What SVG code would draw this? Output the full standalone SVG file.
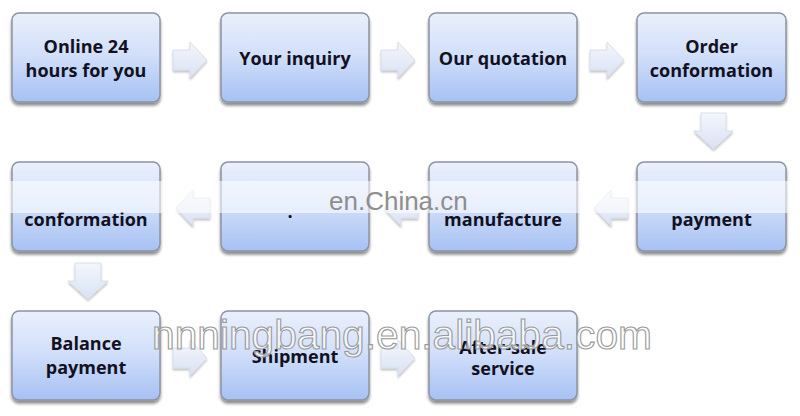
<svg xmlns="http://www.w3.org/2000/svg" width="800" height="416" viewBox="0 0 800 416">
  <defs>
    <linearGradient id="boxGrad" x1="0" y1="0" x2="0" y2="1">
      <stop offset="0" stop-color="#eaf0fc"/>
      <stop offset="0.45" stop-color="#d3e0fa"/>
      <stop offset="1" stop-color="#a6c1f3"/>
    </linearGradient>
    <linearGradient id="arrGrad" x1="0" y1="0" x2="0" y2="1">
      <stop offset="0" stop-color="#f3f6fc"/>
      <stop offset="1" stop-color="#d9e2f4"/>
    </linearGradient>
    <filter id="shadow" x="-10%" y="-10%" width="120%" height="130%">
      <feGaussianBlur in="SourceAlpha" stdDeviation="1.6"/>
      <feOffset dx="0" dy="2.5" result="b"/>
      <feComponentTransfer><feFuncA type="linear" slope="0.45"/></feComponentTransfer>
      <feMerge><feMergeNode/><feMergeNode in="SourceGraphic"/></feMerge>
    </filter>
    <filter id="ashadow" x="-20%" y="-20%" width="140%" height="150%">
      <feGaussianBlur in="SourceAlpha" stdDeviation="1.2"/>
      <feOffset dx="0" dy="1.5"/>
      <feComponentTransfer><feFuncA type="linear" slope="0.25"/></feComponentTransfer>
      <feMerge><feMergeNode/><feMergeNode in="SourceGraphic"/></feMerge>
    </filter>
  </defs>
  <style>
    .box { fill: url(#boxGrad); stroke: #8c93a3; stroke-width: 1.5; filter: url(#shadow); }
    .lbl { font-family: "Open Sans", "Liberation Sans", sans-serif; font-weight: 700; font-size: 18px; fill: #111122; text-anchor: middle; }
    .arr { fill: url(#arrGrad); stroke: #d2d9e6; stroke-width: 0.8; filter: url(#ashadow); }
    .wm1 { font-family: "Liberation Sans", Arial, sans-serif; font-size: 26px; fill: #8e8e8e; }
    .wm2 { font-family: "Liberation Sans", Arial, sans-serif; font-size: 40px; fill: #ffffff; fill-opacity: 0.7; stroke: #9a9a9a; stroke-width: 1.1; }
  </style>
  <rect width="800" height="416" fill="#ffffff"/>

  <g id="connectors">
    <!-- row 1, pointing right -->
    <path class="arr" d="M173,50 H190 V42 L207,60 L190,78 V70 H173 Z"/>
    <path class="arr" d="M381,50 H398 V42 L415,60 L398,78 V70 H381 Z"/>
    <path class="arr" d="M590,50 H607 V42 L624,60 L607,78 V70 H590 Z"/>
    <!-- down from Order conformation -->
    <path class="arr" d="M701,113 H726 V131 H733 L713.5,149 L694,131 H701 Z"/>
    <!-- row 2, pointing left -->
    <path class="arr" d="M628,198 H611 V190 L594,208 L611,226 V218 H628 Z"/>
    <path class="arr" d="M418,198 H401 V190 L384,208 L401,226 V218 H418 Z"/>
    <path class="arr" d="M210,198 H193 V190 L176,208 L193,226 V218 H210 Z"/>
    <!-- down from conformation -->
    <path class="arr" d="M75,263 H101 V281 H108 L88,299 L68,281 H75 Z"/>
    <!-- row 3, pointing right -->
    <path class="arr" d="M173,348 H190 V340 L207,358 L190,376 V368 H173 Z"/>
    <path class="arr" d="M381,348 H398 V340 L415,358 L398,376 V368 H381 Z"/>
  </g>

  <g id="n1"><rect class="box" x="12" y="13" width="148" height="89" rx="7"/>
    <text class="lbl" x="86" y="53">Online 24</text><text class="lbl" x="86" y="77">hours for you</text></g>
  <g id="n2"><rect class="box" x="221" y="13" width="148" height="89" rx="7"/>
    <text class="lbl" x="295" y="65">Your inquiry</text></g>
  <g id="n3"><rect class="box" x="429" y="13" width="148" height="89" rx="7"/>
    <text class="lbl" x="503" y="65">Our quotation</text></g>
  <g id="n4"><rect class="box" x="637" y="13" width="149" height="89" rx="7"/>
    <text class="lbl" x="711.5" y="53">Order</text><text class="lbl" x="711.5" y="77">conformation</text></g>

  <g id="n5"><rect class="box" x="637" y="162" width="149" height="89" rx="7"/>
    <text class="lbl" x="711.5" y="226">payment</text></g>
  <g id="n6"><rect class="box" x="429" y="162" width="148" height="89" rx="7"/>
    <text class="lbl" x="503" y="226">manufacture</text></g>
  <g id="n7"><rect class="box" x="221" y="162" width="148" height="89" rx="7"/>
    <text class="lbl" x="290" y="218">.</text></g>
  <g id="n8"><rect class="box" x="12" y="162" width="148" height="89" rx="7"/>
    <text class="lbl" x="86" y="226">conformation</text></g>

  <g id="n9"><rect class="box" x="12" y="311" width="148" height="89" rx="7"/>
    <text class="lbl" x="86" y="350">Balance</text><text class="lbl" x="86" y="374">payment</text></g>
  <g id="n10"><rect class="box" x="221" y="311" width="148" height="89" rx="7"/>
    <text class="lbl" x="295" y="363">Shipment</text></g>
  <g id="n11"><rect class="box" x="429" y="311" width="148" height="89" rx="7"/>
    <text class="lbl" x="503" y="354">After-sale</text><text class="lbl" x="503" y="375">service</text></g>

  <!-- blurred band across row 2 -->
  <rect x="0" y="181" width="800" height="32" fill="#ffffff" fill-opacity="0.55"/>

  <!-- watermarks -->
  <text class="wm1" x="329" y="210">en.China.cn</text>
  <text class="wm2" x="152" y="349" textLength="500" lengthAdjust="spacingAndGlyphs">nnningbang.en.alibaba.com</text>
</svg>
